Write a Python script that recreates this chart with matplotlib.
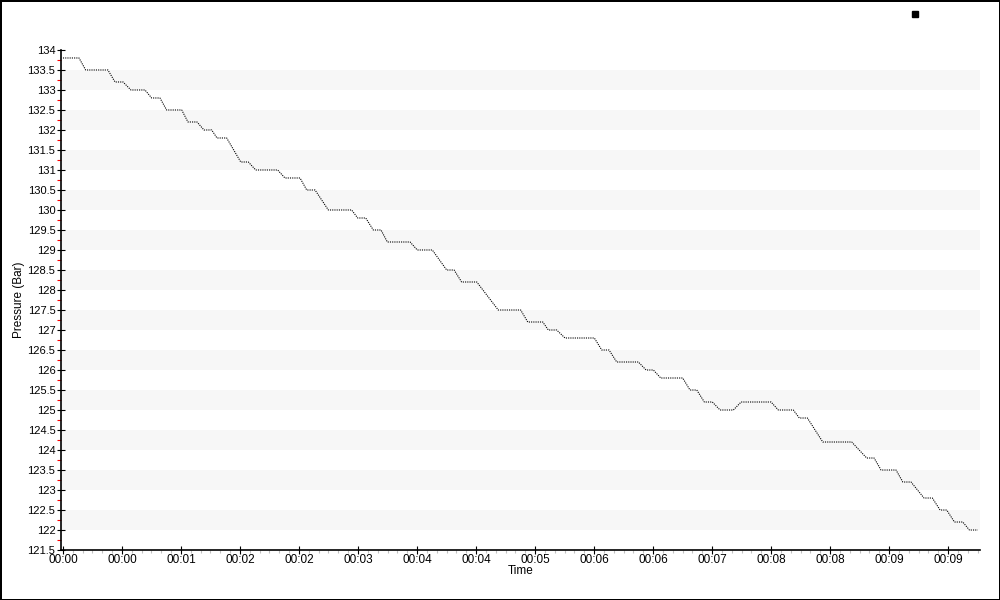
import matplotlib
matplotlib.use("Agg")
import matplotlib.pyplot as plt
import numpy as np
from matplotlib.ticker import MultipleLocator, FixedLocator
from matplotlib.lines import Line2D

# elapsed seconds and pressure (bar), vertices of the trace
time_s = [0, 10.6, 15.0, 29.7, 34.4, 39.7, 44.9, 54.2, 58.6, 64.1,
          68.5, 78.5, 82.6, 88.6, 93.2, 98.3, 101.8, 108.2, 117.5, 122.5,
          127.4, 141.9, 146.7, 156.7, 161.1, 166.6, 175.4, 190.8, 194.8, 200.1,
          205.1, 210.2, 214.4, 229.4, 234.2, 244.1, 253.6, 258.5, 263.5, 273.5,
          287.7, 302.5, 307.2, 317.1, 320.8, 326.3, 331.8, 351.2, 356.1, 360.9,
          366.0, 380.3, 385.4, 390.2, 395.1, 409.6, 414.4, 418.9, 423.9, 429.2,
          434.3, 443.1, 448.2, 468.0, 472.8, 482.7, 486.7, 492.0, 502.2, 521.3,
          531.2, 536.1, 540.7, 550.6, 555.1, 560.5, 569.1, 574.6, 579.7, 584.1,
          589.2, 594.7, 599.1, 604.6]
pressure = [133.8, 133.8, 133.5, 133.5, 133.2, 133.2, 133.0, 133.0, 132.8, 132.8,
            132.5, 132.5, 132.2, 132.2, 132.0, 132.0, 131.8, 131.8, 131.2, 131.2,
            131.0, 131.0, 130.8, 130.8, 130.5, 130.5, 130.0, 130.0, 129.8, 129.8,
            129.5, 129.5, 129.2, 129.2, 129.0, 129.0, 128.5, 128.5, 128.2, 128.2,
            127.5, 127.5, 127.2, 127.2, 127.0, 127.0, 126.8, 126.8, 126.5, 126.5,
            126.2, 126.2, 126.0, 126.0, 125.8, 125.8, 125.5, 125.5, 125.2, 125.2,
            125.0, 125.0, 125.2, 125.2, 125.0, 125.0, 124.8, 124.8, 124.2, 124.2,
            123.8, 123.8, 123.5, 123.5, 123.2, 123.2, 122.8, 122.8, 122.5, 122.5,
            122.2, 122.2, 122.0, 122.0]

tick_step = 39  # seconds between labelled ticks
tick_labels = ["00:00", "00:00", "00:01", "00:02", "00:02", "00:03", "00:04", "00:04",
               "00:05", "00:06", "00:06", "00:07", "00:08", "00:08", "00:09", "00:09"]

plt.rcParams['font.family'] = ['Liberation Sans', 'DejaVu Sans']

fig = plt.figure(figsize=(10, 6), dpi=100, edgecolor="black", linewidth=2)
ax = fig.add_axes([0.061, 0.0833, 0.919, 0.8334])

# alternating horizontal bands
for lo in np.arange(122.0, 134.0, 1.0):
    ax.axhspan(lo, lo + 0.5, color="#f7f7f7", lw=0, zorder=0)

ax.plot(time_s, pressure, color="black", lw=0.8, linestyle=(0, (1, 1)), zorder=2)

ax.set_ylim(121.5, 134)
ax.set_xlim(-1.3, 606.1)

ax.yaxis.set_major_locator(MultipleLocator(0.5))
ax.yaxis.set_minor_locator(MultipleLocator(0.25))
ax.yaxis.set_major_formatter(plt.FuncFormatter(lambda v, p: f"{v:g}"))
tick_pos = [k * tick_step for k in range(len(tick_labels))]
ax.xaxis.set_major_locator(FixedLocator(tick_pos))
ax.set_xticklabels(tick_labels)
ax.xaxis.set_minor_locator(MultipleLocator(tick_step / 6))

ax.tick_params(axis="y", which="major", direction="inout", length=6, width=0.8,
               labelsize=8, pad=1)
ax.tick_params(axis="y", which="minor", direction="out", length=3, width=0.8,
               color="red")
ax.tick_params(axis="x", which="major", direction="inout", length=6, width=0.8,
               labelsize=8.5, pad=0)
ax.tick_params(axis="x", which="minor", direction="out", length=2, width=0.8,
               color="#c0c0c0")

for s in ["top", "right"]:
    ax.spines[s].set_visible(False)
ax.spines["left"].set_linewidth(1.2)
ax.spines["bottom"].set_linewidth(1.2)

ax.set_ylabel("Pressure (Bar)", fontsize=8.5)
ax.yaxis.set_label_coords(-0.039, 0.5)
ax.set_xlabel("Time", fontsize=8.5, labelpad=-1)

h = Line2D([], [], marker="s", color="black", linestyle="none", markersize=5)
fig.legend(handles=[h], labels=[""], loc="center", bbox_to_anchor=(0.915, 0.975),
           frameon=False, handletextpad=0)

fig.savefig("out.png", dpi=100, edgecolor=fig.get_edgecolor())
